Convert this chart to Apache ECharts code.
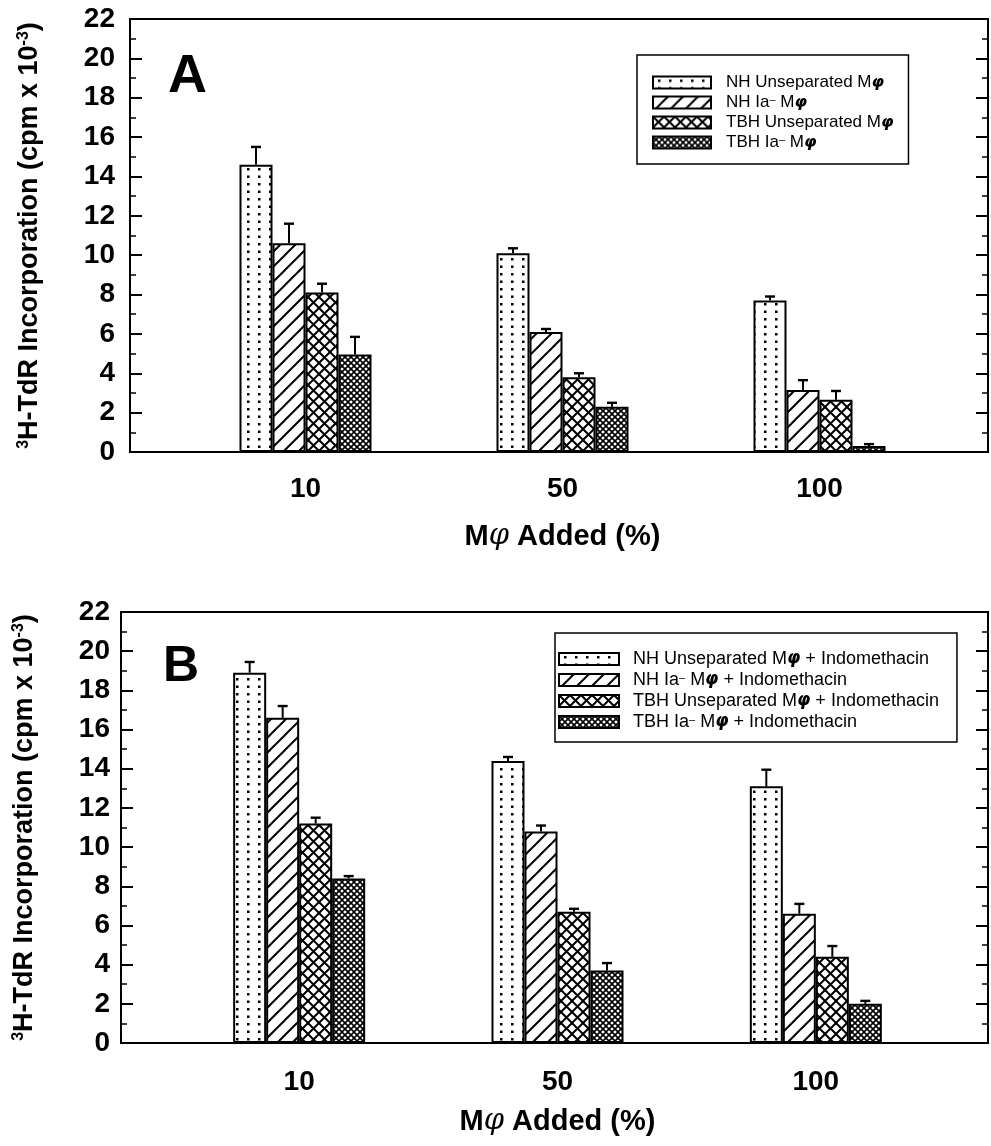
<!DOCTYPE html>
<html>
<head>
<meta charset="utf-8">
<script src="https://cdn.jsdelivr.net/npm/echarts@6/dist/echarts.min.js"></script>
<style>
html,body{margin:0;padding:0;background:#fff;}
#chart{width:991px;height:1146px;}
</style>
</head>
<body>
<div id="chart"></div>
<script>
// ---------- DATA ----------
const categories = ['10', '50', '100'];
const yTicksMax = 22;

const seriesNamesA = ['NH Unseparated Mφ', 'NH Ia- Mφ', 'TBH Unseparated Mφ', 'TBH Ia- Mφ'];
const nhUnsepA      = [14.6, 10.1, 7.7];
const nhUnsepA_err  = [0.9, 0.25, 0.2];
const nhIaA         = [10.6, 6.1, 3.15];
const nhIaA_err     = [1.0, 0.15, 0.5];
const tbhUnsepA     = [8.1, 3.8, 2.65];
const tbhUnsepA_err = [0.45, 0.2, 0.45];
const tbhIaA        = [4.95, 2.3, 0.3];
const tbhIaA_err    = [0.9, 0.2, 0.1];

const seriesNamesB = ['NH Unseparated Mφ + Indomethacin', 'NH Ia- Mφ + Indomethacin', 'TBH Unseparated Mφ + Indomethacin', 'TBH Ia- Mφ + Indomethacin'];
const nhUnsepB      = [18.9, 14.4, 13.1];
const nhUnsepB_err  = [0.55, 0.2, 0.85];
const nhIaB         = [16.6, 10.8, 6.6];
const nhIaB_err     = [0.6, 0.3, 0.5];
const tbhUnsepB     = [11.2, 6.7, 4.4];
const tbhUnsepB_err = [0.3, 0.15, 0.55];
const tbhIaB        = [8.4, 3.7, 2.0];
const tbhIaB_err    = [0.12, 0.38, 0.15];

// ---------- STYLE ----------
const FONT = 'Liberation Sans';
const BAR_W = 33;

function pattern(kind) {
  const c = document.createElement('canvas');
  if (kind === 'dots') { c.width = 11; c.height = 15; }
  else if (kind === 'hatch') { c.width = c.height = 15; }
  else if (kind === 'cross') { c.width = c.height = 11; }
  else { c.width = c.height = 6; }
  const ctx = c.getContext('2d');
  ctx.fillStyle = '#fff';
  ctx.fillRect(0, 0, c.width, c.height);
  ctx.fillStyle = '#000';
  ctx.strokeStyle = '#000';
  if (kind === 'dots') {
    ctx.fillRect(5, 3, 2.5, 2.5);
    ctx.fillRect(5, 10.5, 2.5, 2.5);
  } else if (kind === 'hatch') {
    const s = c.width;
    ctx.lineWidth = 2;
    [[0, s, s, 0], [-s, s, s, -s], [0, 2 * s, 2 * s, 0]].forEach(l => {
      ctx.beginPath(); ctx.moveTo(l[0], l[1]); ctx.lineTo(l[2], l[3]); ctx.stroke();
    });
  } else {
    const s = c.width;
    ctx.lineWidth = kind === 'cross' ? 2 : 1.6;
    const lines = [[0, s, s, 0], [-s, s, s, -s], [0, 2 * s, 2 * s, 0],
                   [0, 0, s, s], [-s, 0, s, 2 * s], [0, -s, 2 * s, s]];
    lines.forEach(l => {
      ctx.beginPath(); ctx.moveTo(l[0], l[1]); ctx.lineTo(l[2], l[3]); ctx.stroke();
    });
  }
  return { image: c, repeat: 'repeat' };
}
const fills = [pattern('dots'), pattern('hatch'), pattern('cross'), pattern('dense')];

function legendFormatter(name) {
  return name.replace('Ia-', 'Ia{sup|–}').replace(/Mφ/g, 'M{phi|φ}');
}

const chart = echarts.init(document.getElementById('chart'), null, { renderer: 'canvas' });

function frameAxes(gridIdx, labelMargin, nameGap) {
  const base = {
    gridIndex: gridIdx, type: 'value', min: 0, max: yTicksMax, interval: 2,
    axisLine: { show: true, lineStyle: { color: '#000', width: 2 } },
    axisTick: { show: true, inside: true, length: 12, lineStyle: { color: '#000', width: 2 } },
    minorTick: { show: true, splitNumber: 2, length: 6, lineStyle: { color: '#000', width: 1.5 } },
    splitLine: { show: false }
  };
  return [
    Object.assign({}, base, {
      position: 'left',
      axisLabel: { show: true, margin: labelMargin, color: '#000', fontFamily: FONT, fontWeight: 'bold', fontSize: 28 },
      name: '{sup|3}H-TdR Incorporation (cpm x 10{sup|-3})',
      nameLocation: 'middle',
      nameGap: nameGap,
      nameTextStyle: {
        color: '#000', fontFamily: FONT, fontWeight: 'bold', fontSize: 27, lineHeight: 27,
        rich: { sup: { fontFamily: FONT, fontWeight: 'bold', fontSize: 16, lineHeight: 27, verticalAlign: 'top', color: '#000' } }
      }
    }),
    Object.assign({}, base, { position: 'right', axisLabel: { show: false } })
  ];
}

function catAxis(gridIdx, labelMargin, nameGap) {
  return {
    gridIndex: gridIdx, type: 'category', data: categories,
    axisLine: { show: false }, axisTick: { show: false },
    axisLabel: { margin: labelMargin, color: '#000', fontFamily: FONT, fontWeight: 'bold', fontSize: 28 },
    name: 'M{phi|φ} Added (%)',
    nameLocation: 'middle',
    nameGap: nameGap,
    nameTextStyle: {
      color: '#000', fontFamily: FONT, fontWeight: 'bold', fontSize: 29,
      rich: { phi: { fontFamily: 'DejaVu Serif', fontStyle: 'italic', fontWeight: 'normal', fontSize: 29, color: '#000' } }
    }
  };
}

function barSeries(names, arrays, xIdx, yIdx) {
  return names.map((n, i) => ({
    name: n, type: 'bar', xAxisIndex: xIdx, yAxisIndex: yIdx,
    barWidth: BAR_W, barGap: '0%',
    itemStyle: { color: fills[i], borderColor: '#000', borderWidth: 2 },
    data: arrays[i],
    z: 2
  }));
}

function errSeries(arrays, errs, xIdx, yIdx) {
  return arrays.map((arr, i) => ({
    type: 'custom', xAxisIndex: xIdx, yAxisIndex: yIdx, z: 5,
    encode: { x: 0, y: [1, 2] },
    data: arr.map((v, k) => [k, v, v + errs[i][k]]),
    renderItem: function (params, api) {
      const b = api.coord([api.value(0), api.value(1)]);
      const t = api.coord([api.value(0), api.value(2)]);
      const x = b[0] + (i - 1.5) * BAR_W;
      return {
        type: 'group', children: [
          { type: 'line', shape: { x1: x, y1: b[1], x2: x, y2: t[1] }, style: { stroke: '#000', lineWidth: 2 } },
          { type: 'line', shape: { x1: x - 5, y1: t[1], x2: x + 5, y2: t[1] }, style: { stroke: '#000', lineWidth: 2.4 } }
        ]
      };
    }
  }));
}

function legendCfg(names, left, top, fontSize, itemWidth, padding, textPad) {
  return {
    data: names, orient: 'vertical', left: left, top: top,
    icon: 'rect', itemWidth: itemWidth, itemHeight: 12, itemGap: 3,
    borderColor: '#000', borderWidth: 1.5, padding: padding,
    selectedMode: false,
    itemStyle: { borderColor: '#000', borderWidth: 2 },
    formatter: legendFormatter,
    textStyle: {
      color: '#000', fontFamily: FONT, fontSize: fontSize, lineHeight: 16, padding: [0, 0, 0, textPad],
      rich: {
        sup: { fontFamily: FONT, fontSize: 11, lineHeight: 16, verticalAlign: 'top', color: '#000' },
        phi: { fontFamily: 'DejaVu Sans', fontStyle: 'italic', fontWeight: 'bold', fontSize: fontSize - 1, lineHeight: 16, color: '#000' }
      }
    }
  };
}

const yA = frameAxes(0, 15, 87);
const yB = frameAxes(2, 11, 83);

const option = {
  animation: false,
  backgroundColor: '#fff',
  textStyle: { fontFamily: FONT },
  title: [
    { text: 'A', left: 163, top: 45, textStyle: { fontFamily: FONT, fontWeight: 'bold', fontSize: 54, color: '#000' } },
    { text: 'B', left: 158, top: 637, textStyle: { fontFamily: FONT, fontWeight: 'bold', fontSize: 50, color: '#000' } }
  ],
  legend: [
    legendCfg(seriesNamesA, 637, 55, 17, 58, [19, 15, 13, 15], 10),
    legendCfg(seriesNamesB, 555, 633, 18, 60, [17, 18, 11, 3], 9)
  ],
  grid: [
    { left: 130, right: 3, top: 19, bottom: 694, show: true, borderColor: '#000', borderWidth: 2 },
    { left: 177, right: 43, top: 19, bottom: 694 },
    { left: 121, right: 3, top: 612, bottom: 103, show: true, borderColor: '#000', borderWidth: 2 },
    { left: 170, right: 46, top: 612, bottom: 103 }
  ],
  xAxis: [
    { gridIndex: 0, type: 'value', min: 0, max: 1, show: false },
    catAxis(1, 23, 70),
    { gridIndex: 2, type: 'value', min: 0, max: 1, show: false },
    catAxis(3, 25, 64)
  ],
  yAxis: [
    yA[0], yA[1],
    { gridIndex: 1, type: 'value', min: 0, max: yTicksMax, show: false },
    yB[0], yB[1],
    { gridIndex: 3, type: 'value', min: 0, max: yTicksMax, show: false }
  ],
  series: [].concat(
    barSeries(seriesNamesA, [nhUnsepA, nhIaA, tbhUnsepA, tbhIaA], 1, 2),
    errSeries([nhUnsepA, nhIaA, tbhUnsepA, tbhIaA], [nhUnsepA_err, nhIaA_err, tbhUnsepA_err, tbhIaA_err], 1, 2),
    barSeries(seriesNamesB, [nhUnsepB, nhIaB, tbhUnsepB, tbhIaB], 3, 5),
    errSeries([nhUnsepB, nhIaB, tbhUnsepB, tbhIaB], [nhUnsepB_err, nhIaB_err, tbhUnsepB_err, tbhIaB_err], 3, 5)
  )
};
chart.setOption(option);
</script>
</body>
</html>
